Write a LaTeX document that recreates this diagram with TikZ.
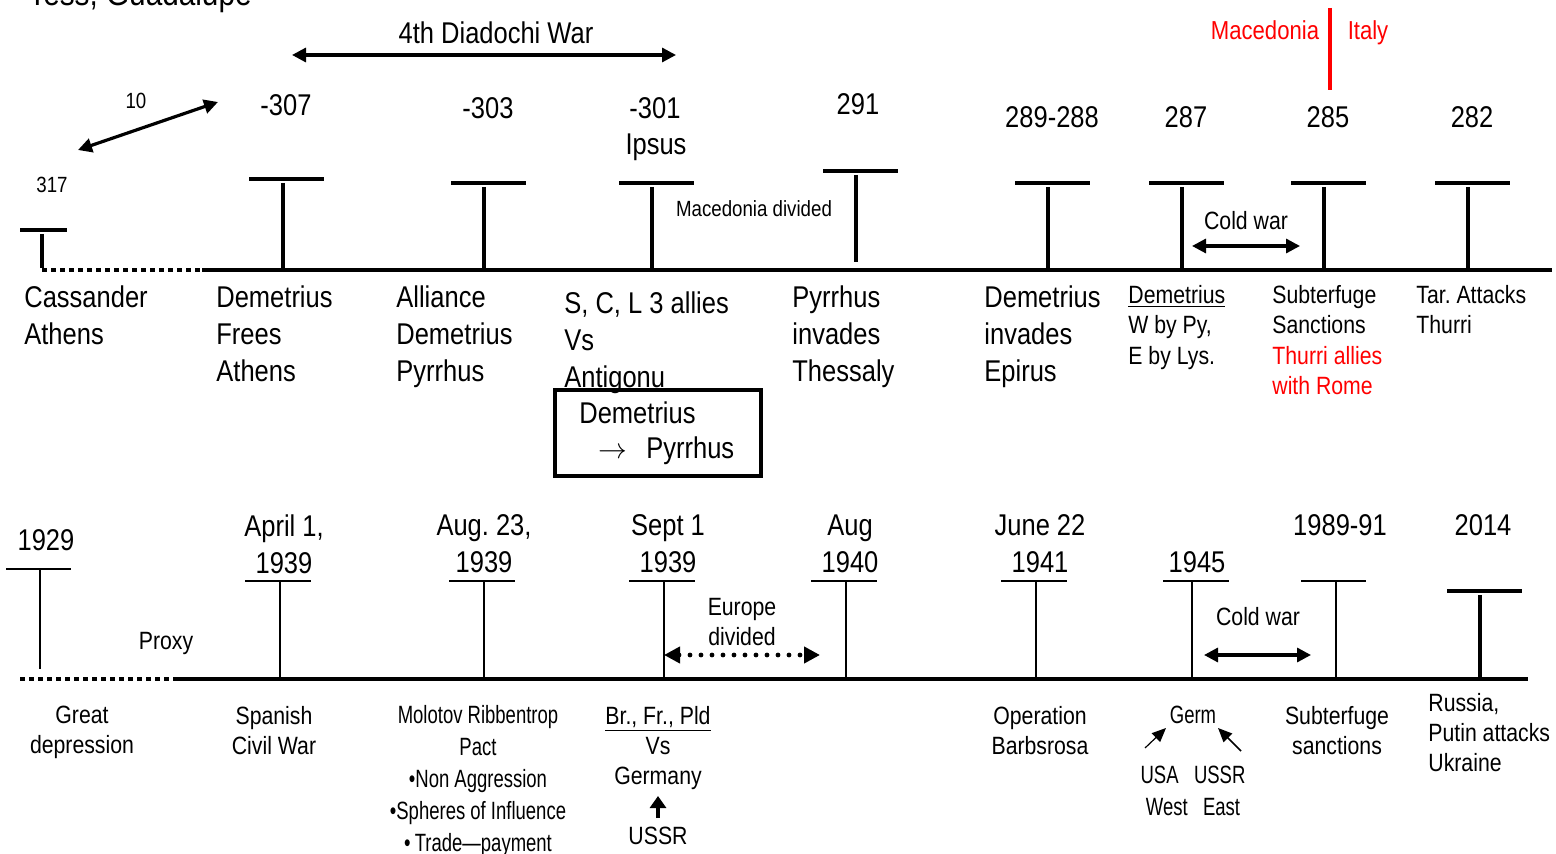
\documentclass[tikz,border=0pt]{standalone}
\usepackage{fontspec}
\setmainfont[FakeStretch=0.85]{Liberation Sans}
\newfontfamily\narrowfont[FakeStretch=0.74]{Liberation Sans}
\usetikzlibrary{arrows.meta}
\definecolor{myred}{RGB}{255,0,0}
\frenchspacing
\begin{document}
\begin{tikzpicture}[x=0.5pt,y=-0.5pt,
  big/.style={font=\fontsize{15}{18.5}\selectfont, inner sep=0pt, align=left},
  med/.style={font=\fontsize{12.5}{15.2}\selectfont, inner sep=0pt, align=left},
  sml/.style={font=\fontsize{11}{13}\selectfont, inner sep=0pt},
  bot/.style={font=\fontsize{12.5}{15}\selectfont, inner sep=0pt, align=center},
  narrow/.style={font=\narrowfont\fontsize{12.5}{16}\selectfont, inner sep=0pt, align=center},
  redlbl/.style={font=\fontsize{13}{15}\selectfont, inner sep=0pt, text=myred, anchor=base},
  thickline/.style={line width=2pt},
  thinline/.style={line width=1pt},
  dotline/.style={line width=2pt, dash pattern=on 2.5pt off 2pt},
  dblarrow/.style={line width=1.6pt, {Triangle[length=7pt,width=7pt]}-{Triangle[length=7pt,width=7pt]}},
]
\useasboundingbox (0,0) rectangle (1556,854);
% clipped title
\node[font=\fontsize{17.5}{20}\selectfont, inner sep=0pt, anchor=base west] (title) at (28,6) {Tess, Guadalupe};

% ===== TOP TIMELINE =====
\coordinate (t0) at (42,270);
\coordinate (t1) at (202,270);
\coordinate (t2) at (1552,270);
\draw[dotline] (t0) -- (t1);
\draw[thickline] (t1) -- (t2);

% T markers top
\draw[thickline] (20,230) -- (67,230); \draw[thickline] (42,234) -- (42,268);
\draw[thickline] (249,179) -- (324,179); \draw[thickline] (283,183) -- (283,270);
\draw[thickline] (451,183) -- (526,183); \draw[thickline] (484,187) -- (484,270);
\draw[thickline] (619,183) -- (694,183); \draw[thickline] (652,187) -- (652,270);
\draw[thickline] (823,171) -- (898,171); \draw[thickline] (856,175) -- (856,262);
\draw[thickline] (1015,183) -- (1090,183); \draw[thickline] (1048,187) -- (1048,270);
\draw[thickline] (1149,183) -- (1224,183); \draw[thickline] (1182,187) -- (1182,270);
\draw[thickline] (1291,183) -- (1366,183); \draw[thickline] (1324,187) -- (1324,270);
\draw[thickline] (1435,183) -- (1510,183); \draw[thickline] (1468,187) -- (1468,270);

% dates top
\node[sml] (d317) at (52,185) {317};
\node[sml] (d10) at (136,101) {10};
\node[big] (d307) at (286,105) {-307};
\node[big] (d303) at (488,108) {-303};
\node[big] (d301) at (655,108) {-301};
\node[big] (ipsus) at (656,147) {Ipsus};
\node[big] (d291) at (858,104) {291};
\node[big] (d289) at (1052,117) {289-288};
\node[big] (d287) at (1186,117) {287};
\node[big] (d285) at (1328,117) {285};
\node[big] (d282) at (1472,117) {282};

\coordinate (a10s) at (78,150);
\coordinate (a10e) at (218,102);
\draw[dblarrow] (a10s) -- (a10e);

\node[big] (diad) at (496,33) {4th Diadochi War};
\coordinate (dwS) at (292,55);
\coordinate (dwE) at (676,55);
\draw[dblarrow] (dwS) -- (dwE);

\node[redlbl] (mac) at (1265,40) {Macedonia};
\node[redlbl] (ita) at (1368,40) {Italy};
\draw[myred, line width=2pt] (1330,8) -- (1330,90);

\node[sml] (macdiv) at (754,209) {Macedonia divided};
\node[med] (cw1) at (1246,221) {Cold war};
\coordinate (cw1s) at (1192,246);
\coordinate (cw1e) at (1300,246);
\draw[dblarrow] (cw1s) -- (cw1e);

% labels under top line
\node[big, anchor=north west] (l1) at (24,285) {Cassander\\Athens};
\node[big, anchor=north west] (l2) at (216,285) {Demetrius\\Frees\\Athens};
\node[big, anchor=north west] (l3) at (396,285) {Alliance\\Demetrius\\Pyrrhus};
\node[big, anchor=north west] (l4) at (564,291) {S, C, L 3 allies\\Vs\\Antigonu};
\node[big, anchor=north west] (l5) at (792,285) {Pyrrhus\\invades\\Thessaly};
\node[big, anchor=north west] (l6) at (984,285) {Demetrius\\invades\\Epirus};
\node[med, anchor=north west] (l7) at (1128,285) {\underline{Demetrius}\\W by Py,\\E by Lys.};
\node[med, anchor=north west] (l8) at (1272,285) {Subterfuge\\Sanctions\\\textcolor{myred}{Thurri allies}\\\textcolor{myred}{with Rome}};
\node[med, anchor=north west] (l9) at (1416,285) {Tar. Attacks\\Thurri};

\node[draw, line width=2pt, minimum width=103pt, minimum height=43pt, inner sep=0pt] (box) at (658,433) {};
\node[big, anchor=west] (bx1) at (579,413) {Demetrius};
\node[big, anchor=west] (bx2) at (598,451) {$\rightarrow$\ \ \,Pyrrhus};

% ===== BOTTOM TIMELINE =====
\coordinate (b0) at (20,679);
\coordinate (b1) at (178,679);
\coordinate (b2) at (1528,679);
\draw[dotline] (b0) -- (b1);
\draw[thickline] (b1) -- (b2);

\draw[thinline] (6,569) -- (71,569); \draw[thinline] (40,569) -- (40,669);
\draw[thinline] (245,581) -- (311,581); \draw[thinline] (280,581) -- (280,679);
\draw[thinline] (449,581) -- (515,581); \draw[thinline] (484,581) -- (484,679);
\draw[thinline] (629,581) -- (695,581); \draw[thinline] (664,581) -- (664,679);
\draw[thinline] (811,581) -- (877,581); \draw[thinline] (846,581) -- (846,679);
\draw[thinline] (1001,581) -- (1067,581); \draw[thinline] (1036,581) -- (1036,679);
\draw[thinline] (1163,581) -- (1229,581); \draw[thinline] (1192,581) -- (1192,679);
\draw[thinline] (1301,581) -- (1366,581); \draw[thinline] (1336,581) -- (1336,679);
\draw[thickline] (1447,591) -- (1522,591); \draw[thickline] (1480,595) -- (1480,679);

\node[big] (y1929) at (46,540) {1929};
\node[big, align=center] (y1939a) at (284,544) {April 1,\\1939};
\node[big, align=center] (y1939b) at (484,544) {Aug. 23,\\1939};
\node[big, align=center] (y1939c) at (668,544) {Sept 1\\1939};
\node[big, align=center] (y1940) at (850,544) {Aug\\1940};
\node[big, align=center] (y1941) at (1040,544) {June 22\\1941};
\node[big] (y1945) at (1197,562) {1945};
\node[big] (y1989) at (1340,525) {1989-91};
\node[big] (y2014) at (1483,525) {2014};

\node[med] (proxy) at (166,643) {Proxy};
\node[bot] (eurdiv) at (742,622) {Europe\\divided};
\coordinate (eds) at (664,655);
\coordinate (ede) at (820,655);
\draw[line width=2.4pt, dash pattern=on 0pt off 5.5pt, line cap=round, {Triangle[length=8pt,width=8pt]}-{Triangle[length=8pt,width=8pt]}] (eds) -- (ede);
\node[med] (cw2) at (1258,617) {Cold war};
\coordinate (cw2s) at (1204,655);
\coordinate (cw2e) at (1311,655);
\draw[dblarrow] (cw2s) -- (cw2e);

% labels under bottom line
\node[bot, anchor=north] (g1) at (82,706) {Great\\depression};
\node[bot, anchor=north] (g2) at (274,706) {Spanish\\Civil War};
\node[narrow, anchor=north] (g3) at (478,705) {Molotov Ribbentrop\\Pact\\\textbullet Non Aggression\\\textbullet Spheres of Influence\\\textbullet\,Trade—payment};
\node[bot, anchor=north] (g4a) at (658,706) {\underline{Br., Fr., Pld}\\Vs\\Germany};
\node[bot] (g4b) at (658,836) {USSR};
\coordinate (upS) at (658,818);
\coordinate (upE) at (658,796);
\draw[line width=2pt, -{Triangle[length=6pt,width=8pt]}] (upS) -- (upE);
\node[bot, anchor=north] (g5) at (1040,706) {Operation\\Barbsrosa};
\node[narrow] (germ) at (1193,715) {Germ};
\node[narrow, anchor=north] (usa) at (1193,766) {USA\ \ \ USSR\\West\ \ \ East};
\coordinate (ga1) at (1145,748);
\coordinate (ga2) at (1166,728);
\coordinate (gb1) at (1241,751);
\coordinate (gb2) at (1218,728);
\draw[line width=0.6pt, -{Triangle[length=7pt,width=6pt]}] (ga1) -- (ga2);
\draw[line width=0.8pt, -{Triangle[length=7pt,width=6pt]}] (gb1) -- (gb2);
\node[bot, anchor=north] (g7) at (1337,706) {Subterfuge\\sanctions};
\node[bot, anchor=north west, align=left] (g8) at (1428,693) {Russia,\\Putin attacks\\Ukraine};
\end{tikzpicture}
\end{document}
